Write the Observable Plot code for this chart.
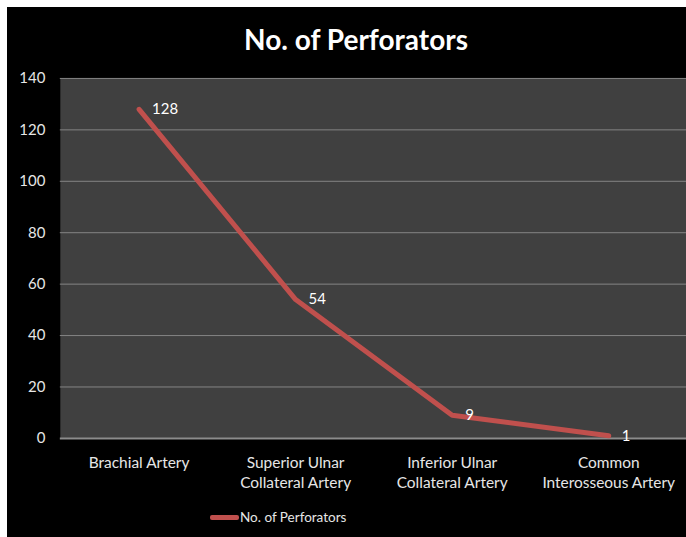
<!DOCTYPE html>
<html>
<head>
<meta charset="utf-8">
<script src="https://cdn.jsdelivr.net/npm/d3@7"></script>
<script src="https://cdn.jsdelivr.net/npm/@observablehq/plot@0.6"></script>
<style>
  html, body { margin: 0; padding: 0; background: #ffffff; overflow: hidden; width: 686px; height: 537px; }
  #panel { position: absolute; left: 7px; top: 7px; width: 679px; height: 530px; background: #000000; }
  #title { position: absolute; left: 0; top: 22px; width: 712px; text-align: center; color: #ffffff;
           font-family: Lato, "Open Sans", sans-serif; font-weight: bold; font-size: 28px; }
  #chart { position: absolute; left: 0; top: 60px; }
  #legend { position: absolute; left: 210px; top: 509px; display: flex; align-items: center;
            font-family: Lato, "Open Sans", sans-serif; font-size: 13.5px; color: #e6e6e6; }
  #legend .sw { width: 29px; height: 5px; background: #c0504d; border-radius: 2px; margin-right: 1px; }
</style>
</head>
<body>
<div id="panel"></div>
<div id="title">No. of Perforators</div>
<div id="chart"></div>
<div id="legend"><span class="sw"></span><span>No. of Perforators</span></div>
<script>
const categories = ["Brachial Artery", "Superior Ulnar\nCollateral Artery", "Inferior Ulnar\nCollateral Artery", "Common\nInterosseous Artery"];
const perforators = [128, 54, 9, 1];
const yTicks = [0, 20, 40, 60, 80, 100, 120, 140];

const data = categories.map((c, i) => ({category: c, value: perforators[i]}));

const chart = Plot.plot({
  width: 688,
  height: 440,
  marginLeft: 60,
  marginRight: 0,
  marginTop: 18,
  marginBottom: 61,
  style: {background: "transparent", fontFamily: "Lato, 'Open Sans', sans-serif", fontSize: "15px", color: "#e6e6e6", overflow: "visible"},
  x: {type: "point", domain: categories, padding: 0.5, label: null},
  y: {domain: [0, 140], ticks: yTicks, label: null},
  marks: [
    Plot.frame({fill: "#404040", stroke: null}),
    Plot.ruleY(yTicks.filter(d => d > 0), {stroke: "#858585", strokeWidth: 1}),
    Plot.ruleY([0], {stroke: "#8c8c8c", strokeWidth: 2}),
    Plot.axisY({ticks: yTicks, tickSize: 0, tickPadding: 15, fontSize: 15, fill: "#e6e6e6", label: null}),
    Plot.axisX({tickSize: 0, tickPadding: 15, fontSize: 15.5, fill: "#e6e6e6", label: null, lineHeight: 1.3}),
    Plot.line(data, {x: "category", y: "value", stroke: "#c0504d", strokeWidth: 5, strokeLinecap: "round", strokeLinejoin: "round"}),
    Plot.text(data, {x: "category", y: "value", text: d => String(d.value), textAnchor: "start", dx: 13, fill: "#ffffff", fontSize: 15})
  ]
});
document.getElementById("chart").appendChild(chart);
</script>
</body>
</html>
